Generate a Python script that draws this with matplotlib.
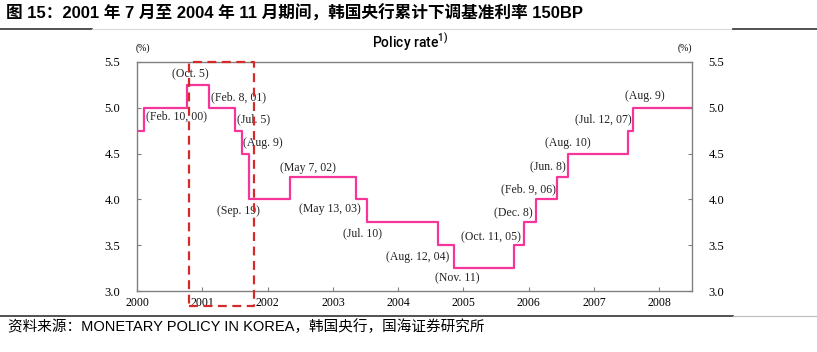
import numpy as np
import pandas as pd
import matplotlib
matplotlib.use('Agg')
import matplotlib.pyplot as plt
from matplotlib.lines import Line2D

# policy rate changes (date of change, new rate %)
change_dates = ['2000-01-01', '2000-02-10', '2000-10-05', '2001-02-08', '2001-07-05',
                '2001-08-09', '2001-09-19', '2002-05-07', '2003-05-13', '2003-07-10',
                '2004-08-12', '2004-11-11', '2005-10-11', '2005-12-08', '2006-02-09',
                '2006-06-08', '2006-08-10', '2007-07-12', '2007-08-09', '2008-07-01']
rates = [4.75, 5.00, 5.25, 5.00, 4.75, 4.50, 4.00, 4.25, 4.00, 3.75,
         3.50, 3.25, 3.50, 3.75, 4.00, 4.25, 4.50, 4.75, 5.00, 5.00]

labels = ['(Oct. 5)', '(Feb. 8, 01)', '(Feb. 10, 00)', '(Jul. 5)', '(Aug. 9)',
          '(May 7, 02)', '(Sep. 19)', '(May 13, 03)', '(Jul. 10)', '(Aug. 12, 04)',
          '(Nov. 11)', '(Oct. 11, 05)', '(Dec. 8)', '(Feb. 9, 06)', '(Jun. 8)',
          '(Aug. 10)', '(Jul. 12, 07)', '(Aug. 9)']
label_x = [2000.81, 2001.55, 2000.61, 2001.79, 2001.93, 2002.62, 2001.56, 2002.96,
           2003.46, 2004.30, 2004.90, 2005.42, 2005.76, 2005.99, 2006.29, 2006.60,
           2007.14, 2007.78]
label_y = [5.37, 5.12, 4.91, 4.87, 4.62, 4.34, 3.87, 3.90, 3.63, 3.37, 3.14, 3.59,
           3.85, 4.11, 4.35, 4.62, 4.87, 5.13]

years = list(range(2000, 2009))
yticks = [3.0, 3.5, 4.0, 4.5, 5.0, 5.5]

d = pd.to_datetime(change_dates)
x = np.array(d.year + (d.dayofyear - 1) / np.where(d.is_leap_year, 366, 365))
x[-1] = 2008.5

serif = ['Liberation Serif', 'DejaVu Serif']
cjk = ['Liberation Sans', 'Noto Sans CJK SC', 'DejaVu Sans']
gray = '#808080'

fig = plt.figure(figsize=(8.17, 3.52), dpi=100)
ax = fig.add_axes([137 / 817, 61 / 352, 555 / 817, 229 / 352])

ax.step(x, rates, where='post', color='#f5359a', lw=1.6)

for t, lx, ly in zip(labels, label_x, label_y):
    ax.text(lx, ly, t, ha='center', va='center', fontsize=8.5, family=serif, color='#222222')

# dashed highlight box
bx = [2000.79, 2001.79, 2001.79, 2000.79, 2000.79]
by = [2.835, 2.835, 5.5, 5.5, 2.835]
ax.plot(bx, by, color='#d42a2a', lw=1.6, ls=(0, (4, 2.5)), clip_on=False, zorder=5)

ax.set_xlim(2000, 2008.5)
ax.set_ylim(3.0, 5.5)
ax.set_xticks(years)
ax.set_xticklabels([str(v) for v in years], family=serif, fontsize=8.5)
ax.set_yticks(yticks)
ax.set_yticklabels(['%.1f' % v for v in yticks], family=serif, fontsize=9)
ax.tick_params(axis='both', direction='in', length=3, color=gray, pad=4)
ax.tick_params(axis='y', right=True, labelright=True, pad=12)
for s in ax.spines.values():
    s.set_color(gray)
    s.set_linewidth(1)

fig.text(143 / 817, 1 - 48 / 352, '(%)', ha='center', va='center', fontsize=7, family=serif)
fig.text(685 / 817, 1 - 48 / 352, '(%)', ha='center', va='center', fontsize=7, family=serif)
fig.text(410 / 817, 1 - 42 / 352, r'Policy rate$^{\mathregular{1)}}$', ha='center', va='center',
         fontsize=10, weight='medium', family=['Liberation Sans Narrow', 'Roboto', 'DejaVu Sans'])

fig.text(6 / 817, 1 - 13 / 352,
         '图 15：2001 年 7 月至 2004 年 11 月期间，韩国央行累计下调基准利率 150BP',
         ha='left', va='center', fontsize=12, weight='bold', family=cjk)
fig.text(8 / 817, 1 - 327 / 352,
         '资料来源：MONETARY POLICY IN KOREA，韩国央行，国海证券研究所',
         ha='left', va='center', fontsize=10.5, family=cjk)

# header / footer rules
fig.add_artist(Line2D([0, 92 / 817], [1 - 29 / 352] * 2, color='#333333', lw=1.2))
fig.add_artist(Line2D([92 / 817, 733 / 817], [1 - 29 / 352] * 2, color='#d9d9d9', lw=0.8))
fig.add_artist(Line2D([733 / 817, 1], [1 - 29 / 352] * 2, color='#333333', lw=1.2))
fig.add_artist(Line2D([0, 733 / 817], [1 - 316 / 352] * 2, color='#333333', lw=1.2))
fig.add_artist(Line2D([733 / 817, 1], [1 - 316 / 352] * 2, color='#bbbbbb', lw=0.8))

fig.savefig('out.png', dpi=100)
